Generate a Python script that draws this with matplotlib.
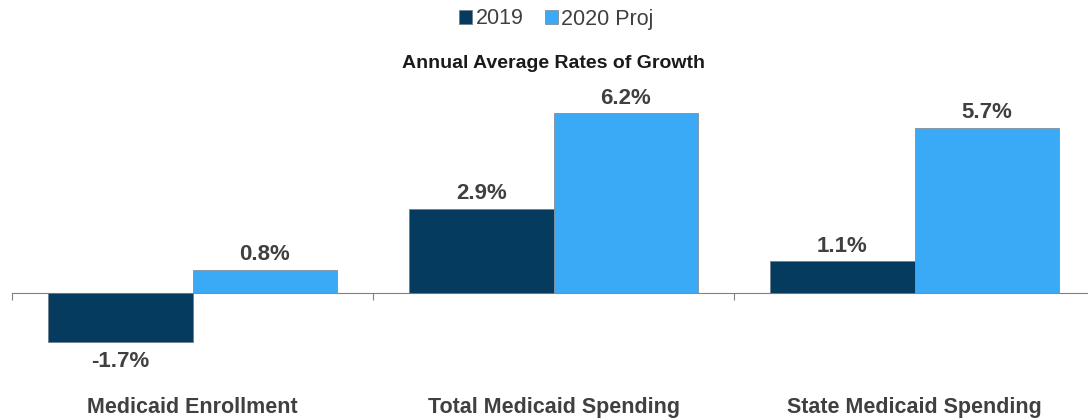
import matplotlib.pyplot as plt
import numpy as np

categories = ["Medicaid Enrollment", "Total Medicaid Spending", "State Medicaid Spending"]
rates_2019 = [-1.7, 2.9, 1.1]
rates_2020 = [0.8, 6.2, 5.7]
series_names = ["2019", "2020 Proj"]

dark = "#063b60"
light = "#3aa9f6"

plt.rcParams["font.family"] = ["Liberation Sans", "DejaVu Sans"]

fig = plt.figure(figsize=(10.88, 4.2), dpi=100)
W, H = 1088.0, 420.0
# axes: x from 12px to 1095px, y data -3..7 mapped with zero at 293px
ppu = 29.03
top_px = 293 - 7 * ppu
bot_px = 293 + 3 * ppu
ax = fig.add_axes([12 / W, 1 - bot_px / H, (1095 - 12) / W, (bot_px - top_px) / H])
ax.set_xlim(-0.5, 2.5)
ax.set_ylim(-3, 7)

x = np.arange(len(categories))
w = 0.4
b1 = ax.bar(x - w / 2, rates_2019, w, color=dark, edgecolor="#6f7f8f", linewidth=0.6, label=series_names[0])
b2 = ax.bar(x + w / 2, rates_2020, w, color=light, edgecolor="#7f8f9f", linewidth=0.6, label=series_names[1])

for bars, vals in [(b1, rates_2019), (b2, rates_2020)]:
    for rect, v in zip(bars, vals):
        cx = rect.get_x() + rect.get_width() / 2
        if v >= 0:
            ax.text(cx, v + 0.15, "%.1f%%" % v, ha="center", va="bottom",
                    fontsize=16, fontweight="bold", color="#404040")
        else:
            ax.text(cx, v - 0.3, "%.1f%%" % v, ha="center", va="top",
                    fontsize=16, fontweight="bold", color="#404040")

for i, cat in enumerate(categories):
    ax.text(i, -3.93, cat, ha="center", va="center", fontsize=15.5,
            fontweight="bold", color="#404040", clip_on=False)

# axis line at zero with group separator ticks
for s in ["top", "right", "left"]:
    ax.spines[s].set_visible(False)
ax.spines["bottom"].set_position(("data", 0))
ax.spines["bottom"].set_color("#808080")
ax.spines["bottom"].set_zorder(0)
ax.set_yticks([])
ax.set_xticks([-0.5, 0.5, 1.5, 2.5])
ax.set_xticklabels([])
ax.tick_params(axis="x", direction="out", length=5, color="#808080")

fig.text(553 / W, 1 - 63 / H, "Annual Average Rates of Growth", ha="center", va="center",
         fontsize=14, fontweight="bold", color="#1a1a1a")

fig.legend(handles=[b1, b2], labels=series_names, loc="center", bbox_to_anchor=(556.5 / W, 1 - 19 / H),
           ncol=2, frameon=False, fontsize=15.5, handlelength=0.6, handleheight=0.6,
           handletextpad=0.15, columnspacing=1.0, labelcolor="#404040")

fig.savefig("out.png", dpi=100)
